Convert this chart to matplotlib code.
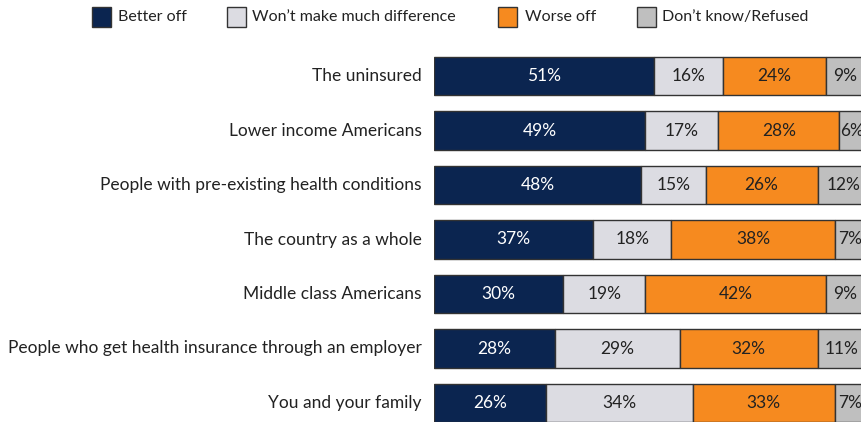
import numpy as np
import matplotlib.pyplot as plt
from matplotlib.patches import Rectangle

# data
categories = [
    "The uninsured",
    "Lower income Americans",
    "People with pre-existing health conditions",
    "The country as a whole",
    "Middle class Americans",
    "People who get health insurance through an employer",
    "You and your family",
]
better_off = [51, 49, 48, 37, 30, 28, 26]
no_difference = [16, 17, 15, 18, 19, 29, 34]
worse_off = [24, 28, 26, 38, 42, 32, 33]
dont_know = [9, 6, 12, 7, 9, 11, 7]

series_names = ["Better off", "Won\u2019t make much difference", "Worse off", "Don\u2019t know/Refused"]
colors = ["#0b2550", "#dcdce2", "#f68a1f", "#bfbfbf"]
text_colors = ["white", "#222222", "#222222", "#222222"]

plt.rcParams["font.family"] = ["Lato", "DejaVu Sans"]

W, H = 862, 422
fig = plt.figure(figsize=(W / 100, H / 100), dpi=100)

# axes: bars start at x=434 px, 4.31 px per percent
px_per_pct = 4.31
x0 = 434
ax = fig.add_axes([x0 / W, 0, (W - x0) / W, 1])
ax.set_xlim(0, (W - x0) / px_per_pct)
step = 54.5
top_center = 76
ax.set_ylim((H - top_center) / step, -top_center / step)
ax.axis("off")

y = np.arange(len(categories))
data = [better_off, no_difference, worse_off, dont_know]
left = np.zeros(len(categories))
for vals, col, tc in zip(data, colors, text_colors):
    vals = np.array(vals)
    ax.barh(y, vals, left=left, height=0.70, color=col, edgecolor="#333333", linewidth=1.0)
    for yi, l, v in zip(y, left, vals):
        ax.text(l + v / 2, yi, f"{v}%", ha="center", va="center", color=tc, fontsize=12.5)
    left += vals

for yi, cat in zip(y, categories):
    ax.text(-2.8, yi, cat, ha="right", va="center", color="#222222", fontsize=12.5, clip_on=False)

# legend drawn by hand
legend_x = [92, 227, 498, 637]
text_x = [118, 252, 525, 662]
for lx, tx, name, col in zip(legend_x, text_x, series_names, colors):
    fig.patches.append(Rectangle((lx / W, 1 - 27 / H), 19 / W, 20 / H, transform=fig.transFigure,
                                 facecolor=col, edgecolor="#333333", linewidth=1.0))
    fig.text(tx / W, 1 - 17 / H, name, ha="left", va="center", fontsize=11.5, color="#222222")

fig.savefig("out.png", dpi=100)
